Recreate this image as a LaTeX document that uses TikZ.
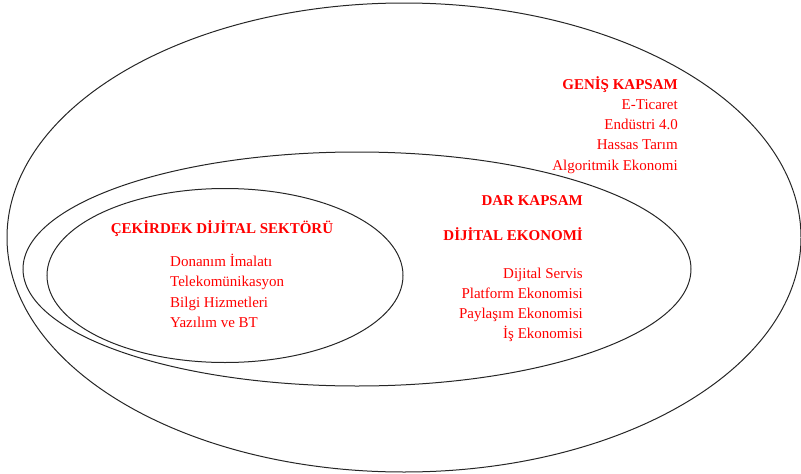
\documentclass[tikz,border=0pt]{standalone}
\usepackage{fontspec}
\setmainfont{Liberation Serif}
\usepackage{tikz}
\usetikzlibrary{shapes}
\definecolor{etiket}{RGB}{255,0,0}

\begin{document}
\begin{tikzpicture}[x=1pt, y=-1pt,
    kume/.style={draw=black!85, line width=1pt},
    baslik/.style={text=etiket, font=\fontsize{15}{18}\selectfont\bfseries, inner sep=0pt},
    liste/.style={text=etiket, font=\fontsize{15}{18}\selectfont, inner sep=0pt}]
  \useasboundingbox (0,0) rectangle (801,474);
  \draw[kume] (404,237.5) ellipse [x radius=397, y radius=234.5];
  \draw[kume] (357,269) ellipse [x radius=334, y radius=117];
  \draw[kume] (225,275.5) ellipse [x radius=178, y radius=87];
  % genis kapsam
  \node[baslik, anchor=base east] (genis) at (678,89) {GENİŞ KAPSAM};
  \foreach \t [count=\i] in {E-Ticaret, Endüstri 4.0, Hassas Tarım, Algoritmik Ekonomi}
    \node[liste, anchor=base east] (genis\i) at (678,89+20.3*\i) {\t};
  % dar kapsam
  \node[baslik, anchor=base east] (dar) at (583,205) {DAR KAPSAM};
  \node[baslik, anchor=base east] (dijital) at (583,240) {DİJİTAL EKONOMİ};
  \foreach \t [count=\i] in {Dijital Servis, Platform Ekonomisi, Paylaşım Ekonomisi, İş Ekonomisi}
    \node[liste, anchor=base east] (dar\i) at (583,258+20*\i) {\t};
  % cekirdek
  \node[baslik, anchor=base] (cekirdek) at (222,233) {ÇEKİRDEK DİJİTAL SEKTÖRÜ};
  \foreach \t [count=\i] in {Donanım İmalatı, Telekomünikasyon, Bilgi Hizmetleri, Yazılım ve BT}
    \node[liste, anchor=base west] (cekirdek\i) at (170,245.5+20.5*\i) {\t};
\end{tikzpicture}
\end{document}
